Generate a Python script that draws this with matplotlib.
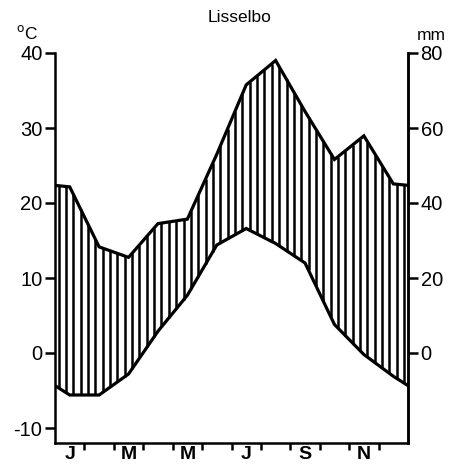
import numpy as np
import matplotlib
matplotlib.use("Agg")
import matplotlib.pyplot as plt

plt.rcParams['font.family'] = ['Liberation Sans', 'DejaVu Sans']
plt.rcParams['axes.unicode_minus'] = False

# Monthly means for Lisselbo
months = ['J', 'F', 'M', 'A', 'M', 'J', 'J', 'A', 'S', 'O', 'N', 'D']
temp = [-5.6, -5.6, -2.8, 2.9, 7.7, 14.4, 16.6, 14.6, 12.0, 3.8, -0.2, -3.1]  # degC
precip = [44.3, 28.3, 25.5, 34.5, 35.7, 53.0, 71.5, 78.0, 64.4, 51.6, 57.9, 45.1]  # mm

temp_ticks = [-10, 0, 10, 20, 30, 40]
precip_ticks = [0, 20, 40, 60, 80]
label_months = [0, 2, 4, 6, 8, 10]

# month centres, curves closed at Jan 1 / Dec 31 with the Dec-Jan mean
x = np.arange(12) + 0.5
xs = np.concatenate([[0], x, [12]])
t_end = (temp[0] + temp[-1]) / 2
p_end = (precip[0] + precip[-1]) / 2
ts = np.concatenate([[t_end], temp, [t_end]])
ps = np.concatenate([[p_end], precip, [p_end]]) / 2.0  # 20 mm per 10 degC

fig = plt.figure(figsize=(4.52, 4.70), dpi=100)
ax = fig.add_axes([55 / 452, 27 / 470, 353 / 452, 390 / 470])

# vertical hatching between the temperature and precipitation curves
hx = np.arange(0.12, 12, 0.25)
ax.vlines(hx, np.interp(hx, xs, ts), np.interp(hx, xs, ps), color='black', lw=1.8)

ax.plot(xs, ts, color='black', lw=2.3, solid_joinstyle='miter')
ax.plot(xs, ps, color='black', lw=2.3, solid_joinstyle='miter')

ax.set_xlim(0, 12)
ax.set_ylim(-12, 40)
ax.spines['top'].set_visible(False)
for s in ['left', 'right', 'bottom']:
    ax.spines[s].set_linewidth(1.8)

ax.set_yticks(temp_ticks)
ax.tick_params(axis='y', direction='out', length=7, width=1.8, labelsize=14.5, pad=2)

ax.set_xticks(np.arange(1, 12))
ax.set_xticklabels([])
ax.tick_params(axis='x', which='major', direction='out', length=5, width=1.8)
ax.set_xticks([m + 0.5 for m in label_months], minor=True)
ax.set_xticklabels([months[m] for m in label_months], minor=True,
                   fontsize=14, fontweight='bold')
ax.tick_params(axis='x', which='minor', length=0, pad=2)

ax2 = ax.twinx()
ax2.set_ylim(-24, 80)
ax2.set_yticks(precip_ticks)
ax2.spines['top'].set_visible(False)
ax2.spines['left'].set_visible(False)
ax2.spines['bottom'].set_visible(False)
ax2.spines['right'].set_linewidth(1.8)
ax2.tick_params(axis='y', direction='out', length=7, width=1.8, labelsize=14.5, pad=2)

fig.text(240 / 452, 1 - 18 / 470, 'Lisselbo', ha='center', va='center', fontsize=12.5)
fig.text(27 / 452, 1 - 33 / 470, r'$^{\mathrm{o}}$C', ha='center', va='center', fontsize=12.5)
fig.text(431 / 452, 1 - 35 / 470, 'mm', ha='center', va='center', fontsize=12.5)

fig.savefig('out.png', dpi=100)
